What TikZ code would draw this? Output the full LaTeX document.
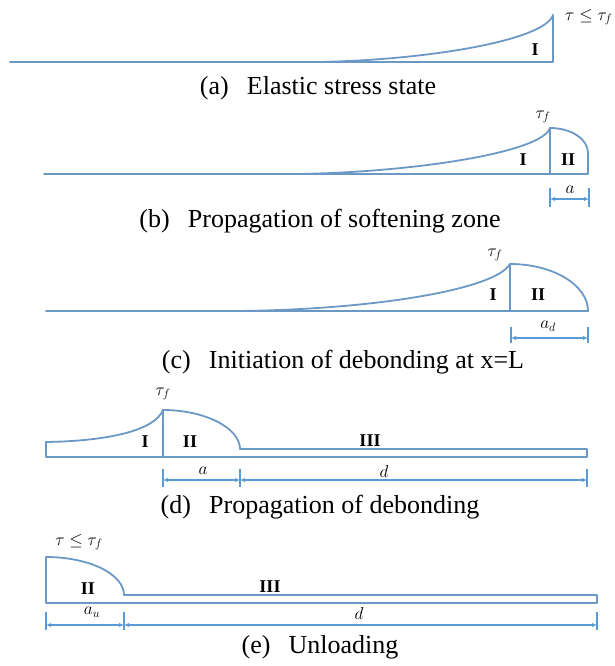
\documentclass[tikz,border=0pt]{standalone}
\usepackage{fontspec}
\setmainfont{Liberation Serif}
\usetikzlibrary{arrows.meta}
\definecolor{profblue}{RGB}{108,152,198}
\definecolor{dimblue}{RGB}{91,155,213}
\tikzset{
  prof/.style={draw=profblue, line width=1.8pt, line join=round, line cap=round},
  dimarrow/.style={draw=dimblue, line width=1.3pt, {Latex[length=5pt,width=4.5pt]}-{Latex[length=5pt,width=4.5pt]}},
  dimtick/.style={draw=dimblue, line width=1.3pt},
  zone/.style={font=\fontsize{18}{20}\selectfont\bfseries, inner sep=0pt},
  lab/.style={font=\fontsize{18.5}{20}\selectfont, inner sep=0pt},
  capt/.style={font=\fontsize{26}{29}\selectfont, inner sep=0pt},
}
\begin{document}
\begin{tikzpicture}[x=1pt,y=-1pt]
\useasboundingbox (0,0) rectangle (615,666);
% ---------------- (a)
\coordinate (a0) at (10,62);
\coordinate (a1) at (553,62);
\coordinate (a2) at (553,15);
\coordinate (as) at (318,62);
\draw[prof] (a0) -- (a1) -- (a2);
\draw[prof] (as) .. controls (430,60) and (545,40) .. (a2);
\node[zone] (aI) at (535,50) {I};
\node[lab, anchor=west] (atau) at (565,17) {$\tau \le \tau_f$};
\node[capt] (acap) at (318,88) {(a)\hspace{0.7em}Elastic stress state};
% ---------------- (b)
\coordinate (b0) at (44,174);
\coordinate (b1) at (588,174);
\coordinate (bv) at (550,174);
\coordinate (bp) at (550,128);
\coordinate (bq) at (588,153);
\coordinate (bs) at (298,174);
\draw[prof] (b0) -- (b1) -- (bq);
\draw[prof] (bv) -- (bp);
\draw[prof] (bs) .. controls (418,172) and (542,152) .. (bp);
\draw[prof] (bp) .. controls (571,128) and (588,139) .. (bq);
\node[zone] (bI) at (523,160) {I};
\node[zone] (bII) at (568,160) {II};
\node[lab] (btau) at (543,117) {$\tau_f$};
\coordinate (bt1a) at (550,188); \coordinate (bt1b) at (550,207);
\coordinate (bt2a) at (589,188); \coordinate (bt2b) at (589,207);
\coordinate (bd1) at (550,199); \coordinate (bd2) at (589,199);
\draw[dimtick] (bt1a) -- (bt1b);
\draw[dimtick] (bt2a) -- (bt2b);
\draw[dimarrow] (bd1) -- (bd2);
\node[lab] (ba) at (570,190) {$a$};
\node[capt] (bcap) at (320,221) {(b)\hspace{0.7em}Propagation of softening zone};
% ---------------- (c)
\coordinate (c0) at (46,311);
\coordinate (c1) at (588,311);
\coordinate (cv) at (510,311);
\coordinate (cp) at (510,264);
\coordinate (cs) at (235,311);
\draw[prof] (c0) -- (c1);
\draw[prof] (cv) -- (cp);
\draw[prof] (cs) .. controls (370,310) and (495,290) .. (cp);
\draw[prof] (cp) .. controls (553,264) and (588,285) .. (c1);
\node[zone] (cI) at (493,295) {I};
\node[zone] (cII) at (538,295) {II};
\node[lab] (ctau) at (495,255) {$\tau_f$};
\coordinate (ct1a) at (511,327); \coordinate (ct1b) at (511,343);
\coordinate (ct2a) at (588,327); \coordinate (ct2b) at (588,343);
\coordinate (cd1) at (511,338); \coordinate (cd2) at (588,338);
\draw[dimtick] (ct1a) -- (ct1b);
\draw[dimtick] (ct2a) -- (ct2b);
\draw[dimarrow] (cd1) -- (cd2);
\node[lab] (cad) at (548,326) {$a_d$};
\node[capt] (ccap) at (343,362) {(c)\hspace{0.7em}Initiation of debonding at x=L};
% ---------------- (d)
\coordinate (d0) at (46,457);
\coordinate (d1) at (587,457);
\coordinate (d2) at (587,449);
\coordinate (d3) at (240,449);
\coordinate (d4) at (46,442);
\coordinate (dv) at (163,457);
\coordinate (dp) at (163,410);
\draw[prof] (d4) -- (d0) -- (d1) -- (d2) -- (d3);
\draw[prof] (d4) .. controls (110,441) and (155,430) .. (dp);
\draw[prof] (dv) -- (dp);
\draw[prof] (dp) .. controls (205,410) and (240,428) .. (d3);
\node[zone] (dI) at (145,442) {I};
\node[zone] (dII) at (190,442) {II};
\node[zone] (dIII) at (370,441) {III};
\node[lab] (dtau) at (163,394) {$\tau_f$};
\coordinate (dt1a) at (163,469); \coordinate (dt1b) at (163,487);
\coordinate (dt2a) at (240,469); \coordinate (dt2b) at (240,487);
\coordinate (dt3a) at (587,469); \coordinate (dt3b) at (587,487);
\coordinate (dd1) at (163,480); \coordinate (dd2) at (240,480); \coordinate (dd3) at (587,480);
\draw[dimtick] (dt1a) -- (dt1b);
\draw[dimtick] (dt2a) -- (dt2b);
\draw[dimtick] (dt3a) -- (dt3b);
\draw[dimarrow] (dd1) -- (dd2);
\draw[dimarrow] (dd2) -- (dd3);
\node[lab] (da) at (203,471) {$a$};
\node[lab] (dd) at (384,471) {$d$};
\node[capt] (dcap) at (320,507) {(d)\hspace{0.7em}Propagation of debonding};
% ---------------- (e)
\coordinate (e0) at (46,603);
\coordinate (e1) at (597,603);
\coordinate (e2) at (597,595);
\coordinate (e3) at (124,595);
\coordinate (e4) at (46,557);
\draw[prof] (e3) -- (e2) -- (e1) -- (e0) -- (e4);
\draw[prof] (e4) .. controls (89,557) and (124,574) .. (e3);
\node[zone] (eII) at (88,589) {II};
\node[zone] (eIII) at (270,587) {III};
\node[lab] (etau) at (79,542) {$\tau \le \tau_f$};
\coordinate (et1a) at (46,612); \coordinate (et1b) at (46,630);
\coordinate (et2a) at (124,612); \coordinate (et2b) at (124,630);
\coordinate (et3a) at (597,612); \coordinate (et3b) at (597,630);
\coordinate (ed1) at (46,625); \coordinate (ed2) at (124,625); \coordinate (ed3) at (597,625);
\draw[dimtick] (et1a) -- (et1b);
\draw[dimtick] (et2a) -- (et2b);
\draw[dimtick] (et3a) -- (et3b);
\draw[dimarrow] (ed1) -- (ed2);
\draw[dimarrow] (ed2) -- (ed3);
\node[lab] (eau) at (92,612) {$a_u$};
\node[lab] (ed) at (359,613) {$d$};
\node[capt] (ecap) at (320,647) {(e)\hspace{0.7em}Unloading};
\end{tikzpicture}
\end{document}
